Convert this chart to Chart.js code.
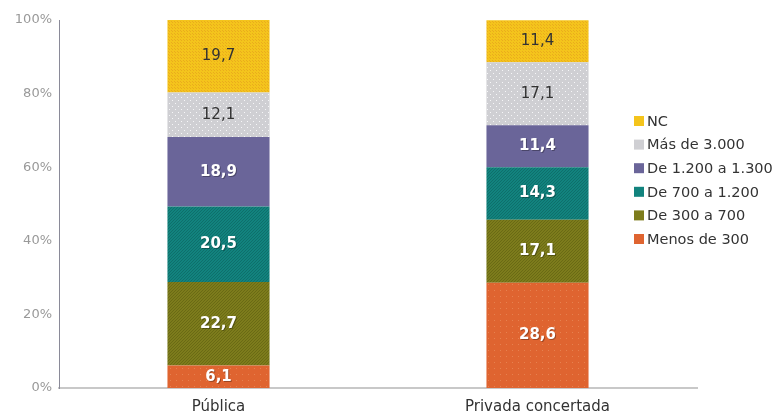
<!DOCTYPE html>
<html>
<head>
<meta charset="utf-8">
<script src="https://cdn.jsdelivr.net/npm/chart.js@4"></script>
<style>
  html, body { margin: 0; padding: 0; background: #fff; }
  #wrap { width: 783px; height: 417px; position: relative; }
</style>
</head>
<body>
<div id="wrap"><canvas id="chart"></canvas></div>
<script>
// categories and series (percent)
const categories = ["Pública", "Privada concertada"];
const seriesNames = ["Menos de 300", "De 300 a 700", "De 700 a 1.200", "De 1.200 a 1.300", "Más de 3.000", "NC"];
const menos300 = [6.1, 28.6];
const de300a700 = [22.7, 17.1];
const de700a1200 = [20.5, 14.3];
const de1200a1300 = [18.9, 11.4];
const mas3000 = [12.1, 17.1];
const nc = [19.7, 11.4];
const yTicks = [0, 20, 40, 60, 80, 100];

const FONT = "'DejaVu Sans', Verdana, sans-serif";

// small tiled patterns to mimic the textured fills
function makePattern(base, dot, kind) {
  const c = document.createElement("canvas");
  const s = kind === "sparse" ? 6 : (kind === "dots" ? 6 : 3);
  c.width = s; c.height = s;
  const g = c.getContext("2d");
  g.fillStyle = base;
  g.fillRect(0, 0, s, s);
  g.fillStyle = dot;
  if (kind === "fine") {
    g.fillRect(0, 0, 1, 1);
    g.fillRect(2, 1, 1, 1);
    g.fillRect(1, 2, 1, 1);
  } else if (kind === "grid") {
    g.fillRect(0, 0, 1, 1);
    g.fillRect(1, 1, 1, 1);
  } else if (kind === "dots") {
    g.fillRect(1, 1, 1, 1);
    g.fillRect(4, 4, 1, 1);
  } else if (kind === "sparse") {
    g.fillRect(2, 2, 1, 1);
  }
  const ctx = document.createElement("canvas").getContext("2d");
  return ctx.createPattern(c, "repeat");
}

const colors = [
  { fill: makePattern("#df6430", "#e7814f", "sparse"), solid: "#df6430", text: "#ffffff", bold: true },
  { fill: makePattern("#7d7c1c", "#6a6a14", "fine"), solid: "#7d7c1c", text: "#ffffff", bold: true },
  { fill: makePattern("#12837e", "#0e6f6b", "fine"), solid: "#12837e", text: "#ffffff", bold: true },
  { fill: "#6a6599", solid: "#6a6599", text: "#ffffff", bold: true },
  { fill: makePattern("#cfcfd3", "#f6f6f8", "dots"), solid: "#cfcfd3", text: "#333333", bold: false },
  { fill: makePattern("#f4c41c", "#eaac1c", "grid"), solid: "#f4c41c", text: "#333333", bold: false },
];

const seriesValues = [menos300, de300a700, de700a1200, de1200a1300, mas3000, nc];

function createData() {
  let data = { labels: categories, datasets: [] };
  for (let i = 0; i < seriesValues.length; i++) {
    data.datasets.push({
      label: seriesNames[i],
      data: seriesValues[i],
      backgroundColor: colors[i].fill,
      borderWidth: 0,
      barPercentage: 0.32,
      categoryPercentage: 1,
    });
  }
  return data;
}

// value labels inside each segment
const valueLabels = {
  id: "valueLabels",
  afterDatasetsDraw(chart) {
    const ctx = chart.ctx;
    ctx.save();
    ctx.textAlign = "center";
    ctx.textBaseline = "middle";
    chart.data.datasets.forEach((ds, i) => {
      const meta = chart.getDatasetMeta(i);
      meta.data.forEach((bar, j) => {
        const y = (bar.y + bar.base) / 2;
        const txt = ds.data[j].toFixed(1).replace(".", ",");
        ctx.font = (colors[i].bold ? "bold " : "") + "15px " + FONT;
        if (colors[i].bold) {
          ctx.fillStyle = "rgba(0,0,0,0.3)";
          ctx.fillText(txt, bar.x + 1, y + 1);
        }
        ctx.fillStyle = colors[i].text;
        ctx.fillText(txt, bar.x, y);
      });
    });
    ctx.restore();
  },
};

// legend drawn over the right part of the plot, NC on top
const sideLegend = {
  id: "sideLegend",
  afterDraw(chart) {
    const ctx = chart.ctx;
    ctx.save();
    ctx.font = "14.5px " + FONT;
    ctx.textBaseline = "middle";
    const n = chart.data.datasets.length;
    for (let k = 0; k < n; k++) {
      const i = n - 1 - k;
      const y = 121 + k * 23.6;
      ctx.fillStyle = colors[i].solid;
      ctx.fillRect(634, y - 5, 10, 10);
      ctx.fillStyle = "#333333";
      ctx.fillText(chart.data.datasets[i].label, 647, y + 1);
    }
    ctx.restore();
  },
};

const options = {
  responsive: true,
  maintainAspectRatio: false,
  animation: { duration: 0 },
  layout: { padding: { top: 20, right: 86, left: 0, bottom: 0 } },
  plugins: {
    legend: { display: false },
    tooltip: { enabled: false },
  },
  scales: {
    x: {
      stacked: true,
      grid: { display: false, drawTicks: false },
      border: { color: "#c8c8c8", width: 2 },
      ticks: { color: "#333", font: { family: FONT, size: 15 }, padding: 10 },
      afterFit(scale) { scale.height = 29; },
    },
    y: {
      stacked: true,
      min: 0,
      max: 100,
      afterBuildTicks(scale) { scale.ticks = yTicks.map((v) => ({ value: v })); },
      grid: { display: false, drawOnChartArea: false, drawTicks: true, tickLength: 4, color: "#777" },
      border: { color: "#8a8a98", width: 1 },
      ticks: {
        color: "#999999",
        font: { family: FONT, size: 13 },
        padding: 3,
        callback: (v) => v + "%",
      },
      afterFit(scale) { scale.width = 59; },
    },
  },
};

var chart = new Chart(document.getElementById("chart").getContext("2d"), {
  type: "bar",
  data: createData(),
  options: options,
  plugins: [valueLabels, sideLegend],
});
</script>
</body>
</html>
